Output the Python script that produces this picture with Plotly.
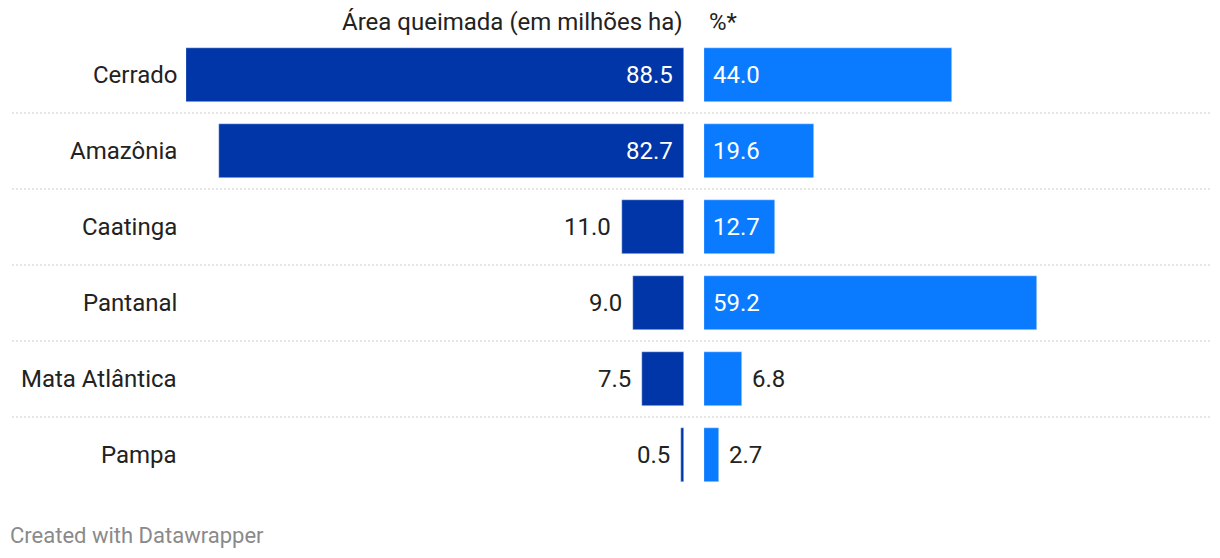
import plotly.graph_objects as go

categories = ["Cerrado", "Amazônia", "Caatinga", "Pantanal", "Mata Atlântica", "Pampa"]
area_mha = [88.5, 82.7, 11.0, 9.0, 7.5, 0.5]
pct = [44.0, 19.6, 12.7, 59.2, 6.8, 2.7]
header_left = "Área queimada (em milhões ha)"
header_right = "%*"
footer = "Created with Datawrapper"

W, H = 1220, 558
OFF = 8  # page body margin
DARK = "#0036a8"
LIGHT = "#0a7bff"
TXT = "#222222"
FONT = "Roboto"
FS = 24

# pixel geometry (screen coords, converted with OFF)
L0, L1 = 186 - OFF, 684 - OFF      # left panel (88.5 at L0, 0 at L1)
R0, R1 = 704 - OFF, 1210 - OFF     # right panel
scale = (L1 - L0) / 88.5
row_top, row_bot = 37 - OFF, 493 - OFF

def px(x):
    return x / W

def py(y):
    return 1 - y / H

fig = go.Figure()
fig.add_trace(go.Bar(y=categories, x=area_mha, orientation="h", marker_color=DARK,
                     xaxis="x", yaxis="y", width=0.71, hoverinfo="skip"))
fig.add_trace(go.Bar(y=categories, x=pct, orientation="h", marker_color=LIGHT,
                     xaxis="x2", yaxis="y", width=0.71, hoverinfo="skip"))

ann = []
for c, v in zip(categories, area_mha):
    inside = v > 50
    ann.append(dict(x=0 if inside else v, y=c, xref="x", yref="y", text=f"{v:.1f}",
                    xanchor="right", xshift=-9, showarrow=False,
                    font=dict(color="white" if inside else TXT, size=FS, family=FONT)))
for c, v in zip(categories, pct):
    inside = v > 10
    ann.append(dict(x=0 if inside else v, y=c, xref="x2", yref="y", text=f"{v:.1f}",
                    xanchor="left", xshift=7 if inside else 8, showarrow=False,
                    font=dict(color="white" if inside else TXT, size=FS, family=FONT)))
for c in categories:
    ann.append(dict(x=px(171), y=c, xref="paper", yref="y", text=c, xanchor="right",
                    showarrow=False, font=dict(color=TXT, size=FS, family=FONT)))
ann.append(dict(x=px(L1), y=py(22 - OFF), xref="paper", yref="paper", text=header_left,
                xanchor="right", yanchor="middle", xshift=1, showarrow=False,
                font=dict(color=TXT, size=FS, family=FONT)))
ann.append(dict(x=px(R0), y=py(22 - OFF), xref="paper", yref="paper", text=header_right,
                xanchor="left", yanchor="middle", xshift=3, showarrow=False,
                font=dict(color=TXT, size=FS, family=FONT)))
ann.append(dict(x=px(10 - OFF), y=py(535 - OFF), xref="paper", yref="paper", text=footer,
                xanchor="left", yanchor="middle", xshift=-2, showarrow=False,
                font=dict(color="#8a8a8a", size=22, family=FONT)))

shapes = []
for i in range(len(categories) - 1):
    shapes.append(dict(type="line", xref="paper", yref="y", x0=px(12 - OFF), x1=px(1210 - OFF),
                       y0=i + 0.5, y1=i + 0.5,
                       line=dict(color="#cccccc", width=1, dash="2px,2px")))

fig.update_layout(
    width=W, height=H, margin=dict(l=0, r=0, t=0, b=0),
    paper_bgcolor="white", plot_bgcolor="white", showlegend=False, bargap=0,
    font=dict(family=FONT, size=FS, color=TXT),
    xaxis=dict(domain=[px(L0), px(L1)], range=[88.5, 0], visible=False, fixedrange=True),
    xaxis2=dict(domain=[px(R0), px(R1)], range=[0, (R1 - R0) / scale], visible=False,
                anchor="y", fixedrange=True),
    yaxis=dict(domain=[py(row_bot), py(row_top)], range=[len(categories) - 0.5, -0.5],
               visible=False, type="category", categoryorder="array", categoryarray=categories,
               fixedrange=True),
    annotations=ann, shapes=shapes,
)
fig.write_html("out.html", config={"displayModeBar": False})
